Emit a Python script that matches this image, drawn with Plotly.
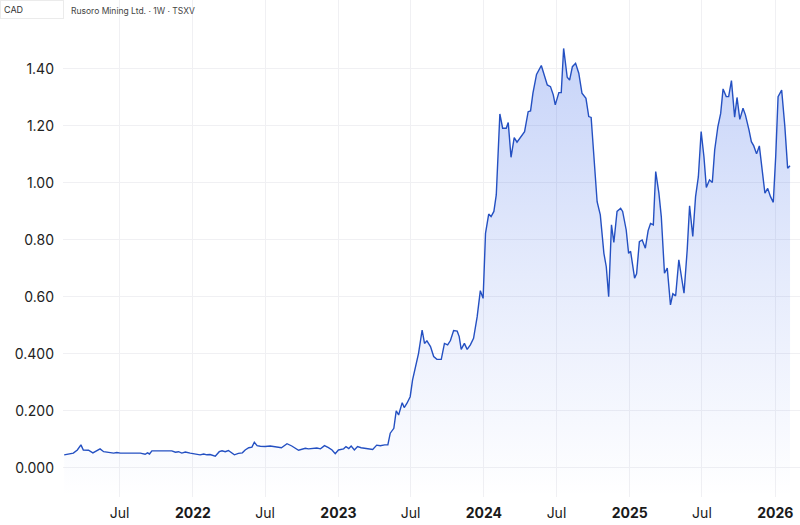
import plotly.graph_objects as go

# ---- data (weekly closes) ----
dates = [
    "2021-02-12","2021-03-07","2021-03-17","2021-03-26","2021-04-01","2021-04-14","2021-04-25","2021-05-05",
    "2021-05-13","2021-05-22","2021-06-03","2021-06-16","2021-06-24","2021-07-03","2021-08-22","2021-09-03",
    "2021-09-09","2021-09-14","2021-09-20","2021-10-11","2021-10-18","2021-11-09","2021-11-18","2021-11-26",
    "2021-12-04","2021-12-13","2021-12-25",
    "2022-01-07","2022-01-19","2022-01-28","2022-02-05","2022-02-13","2022-02-26","2022-03-08","2022-03-15",
    "2022-03-23","2022-03-31","2022-04-15","2022-04-25","2022-05-05","2022-05-12","2022-05-21","2022-05-29",
    "2022-06-04","2022-06-11","2022-06-19","2022-07-01","2022-07-14","2022-07-27","2022-08-11","2022-08-25",
    "2022-09-06","2022-09-23","2022-10-03","2022-10-10","2022-10-18","2022-10-27","2022-11-08","2022-11-17",
    "2022-11-27","2022-12-07","2022-12-16","2022-12-24",
    "2023-01-01","2023-01-14","2023-01-20","2023-01-27","2023-02-02","2023-02-10","2023-02-18","2023-02-27",
    "2023-03-09","2023-03-16","2023-03-28","2023-04-07","2023-04-16","2023-04-27","2023-05-05","2023-05-11",
    "2023-05-20","2023-05-26","2023-06-01","2023-06-10","2023-06-15","2023-06-22","2023-06-30","2023-07-06",
    "2023-07-13","2023-07-21","2023-07-30","2023-08-05","2023-08-11","2023-08-20","2023-08-28","2023-09-05",
    "2023-09-16","2023-09-24","2023-10-02","2023-10-09","2023-10-17","2023-10-26","2023-10-31","2023-11-05",
    "2023-11-13","2023-11-20","2023-11-28","2023-12-06","2023-12-15","2023-12-19","2023-12-23","2023-12-30",
    "2024-01-05","2024-01-13","2024-01-19","2024-01-26","2024-02-01","2024-02-10","2024-02-17","2024-02-26",
    "2024-03-02","2024-03-09","2024-03-17","2024-03-24","2024-04-03","2024-04-12","2024-04-21","2024-04-27",
    "2024-05-03","2024-05-12","2024-05-24","2024-06-01","2024-06-08","2024-06-16","2024-06-23","2024-06-28",
    "2024-07-07","2024-07-13","2024-07-19","2024-07-28","2024-08-03","2024-08-10","2024-08-18","2024-08-26",
    "2024-09-03","2024-09-13","2024-09-20","2024-09-26","2024-10-05","2024-10-11","2024-10-19","2024-10-28",
    "2024-11-03","2024-11-09","2024-11-16","2024-11-22","2024-11-30","2024-12-09","2024-12-14","2024-12-23",
    "2024-12-29",
    "2025-01-03","2025-01-13","2025-01-18","2025-01-25","2025-02-01","2025-02-09","2025-02-16","2025-02-22",
    "2025-03-01","2025-03-07","2025-03-15","2025-03-21","2025-03-29","2025-04-05","2025-04-13","2025-04-19",
    "2025-04-26","2025-05-04","2025-05-11","2025-05-17","2025-05-25","2025-05-31","2025-06-08","2025-06-15",
    "2025-06-22","2025-06-29","2025-07-06","2025-07-12","2025-07-20","2025-07-27","2025-08-02","2025-08-10",
    "2025-08-17","2025-08-23","2025-08-31","2025-09-06","2025-09-13","2025-09-21","2025-09-27","2025-10-04",
    "2025-10-12","2025-10-18","2025-10-27","2025-11-02","2025-11-08","2025-11-15","2025-11-22","2025-11-29",
    "2025-12-06","2025-12-13","2025-12-20","2025-12-27",
    "2026-01-02","2026-01-08","2026-01-17","2026-01-25","2026-02-01","2026-02-07",
]
prices = [
    0.046,0.052,0.063,0.081,0.063,0.062,0.053,0.060,
    0.067,0.057,0.054,0.052,0.054,0.052,0.052,0.048,
    0.053,0.049,0.060,0.060,0.062,0.060,0.055,0.057,
    0.052,0.056,0.052,
    0.048,0.046,0.049,0.046,0.047,0.041,0.057,0.060,
    0.057,0.061,0.046,0.051,0.053,0.063,0.071,0.073,
    0.090,0.078,0.076,0.075,0.077,0.074,0.071,0.085,
    0.077,0.062,0.067,0.069,0.067,0.069,0.070,0.067,
    0.078,0.071,0.063,0.050,
    0.063,0.067,0.075,0.068,0.077,0.063,0.075,0.071,
    0.068,0.067,0.065,0.080,0.078,0.081,0.081,0.122,
    0.139,0.200,0.186,0.229,0.212,0.227,0.250,0.309,
    0.353,0.402,0.484,0.437,0.446,0.426,0.391,0.381,
    0.381,0.437,0.432,0.447,0.482,0.480,0.461,0.416,
    0.437,0.416,0.432,0.455,0.530,0.585,0.622,0.595,
    0.823,0.891,0.882,0.900,0.958,1.242,1.192,1.192,
    1.212,1.090,1.159,1.143,1.163,1.180,1.250,1.253,
    1.315,1.381,1.412,1.375,1.344,1.338,1.309,1.274,
    1.317,1.317,1.472,1.371,1.361,1.408,1.420,1.385,
    1.315,1.297,1.233,1.230,1.057,0.934,0.888,0.753,
    0.706,0.601,0.853,0.791,0.900,0.911,0.900,0.835,
    0.753,
    0.760,0.666,0.681,0.794,0.800,0.771,0.833,0.858,
    0.853,1.040,0.964,0.882,0.683,0.701,0.572,0.611,
    0.604,0.730,0.660,0.613,0.765,0.920,0.812,0.952,
    1.022,1.180,1.092,0.984,1.011,1.002,1.116,1.198,
    1.244,1.330,1.303,1.303,1.359,1.231,1.300,1.223,
    1.262,1.239,1.186,1.145,1.130,1.102,1.130,1.046,
    0.964,0.981,0.952,0.932,
    1.092,1.303,1.326,1.198,1.052,1.060,
]

y_tick_vals = [0.0, 0.2, 0.4, 0.6, 0.8, 1.0, 1.2, 1.4]
y_tick_text = ["0.000", "0.200", "0.400", "0.60", "0.80", "1.00", "1.20", "1.40"]
x_tick_vals = ["2021-07-01", "2022-01-01", "2022-07-01", "2023-01-01", "2023-07-01",
               "2024-01-01", "2024-07-01", "2025-01-01", "2025-07-01", "2026-01-01"]
x_tick_text = ["Jul", "<b>2022</b>", "Jul", "<b>2023</b>", "Jul",
               "<b>2024</b>", "Jul", "<b>2025</b>", "Jul", "<b>2026</b>"]

Y_MIN, Y_MAX = -0.102, 1.642
X_RANGE = ["2021-02-09", "2026-03-04"]

LINE = "#2450c2"
FONT = "Inter"

fig = go.Figure()
# baseline at the bottom of the plot so the area fill reaches the axis floor
fig.add_trace(go.Scatter(x=[dates[0], dates[-1]], y=[Y_MIN, Y_MIN], mode="lines",
                         line=dict(width=0, color="rgba(0,0,0,0)"), hoverinfo="skip",
                         showlegend=False))
fig.add_trace(go.Scatter(
    x=dates, y=prices, mode="lines",
    line=dict(color=LINE, width=1.4),
    fill="tonexty",
    fillgradient=dict(type="vertical", start=Y_MIN, stop=1.45,
                      colorscale=[[0, "rgba(41,90,230,0.0)"],
                                  [0.5, "rgba(41,90,230,0.12)"],
                                  [1, "rgba(41,90,230,0.26)"]]),
    showlegend=False,
))

fig.update_layout(
    width=800, height=525,
    margin=dict(l=63, r=0, t=0, b=28),
    paper_bgcolor="white", plot_bgcolor="white",
    font=dict(family=FONT, size=14, color="#222"),
    showlegend=False,
    xaxis=dict(
        type="date", range=X_RANGE,
        tickmode="array", tickvals=x_tick_vals, ticktext=x_tick_text,
        showgrid=True, gridcolor="#f0f0f3", gridwidth=1,
        zeroline=False, showline=False, ticks="",
        ticklabelstandoff=6,
        tickfont=dict(family=FONT, size=14, color="#1a1a1a"),
    ),
    yaxis=dict(
        range=[Y_MIN, Y_MAX],
        tickmode="array", tickvals=y_tick_vals, ticktext=y_tick_text,
        showgrid=True, gridcolor="#f0f0f3", gridwidth=1,
        zeroline=False, showline=False, ticks="",
        ticklabelstandoff=8,
        tickfont=dict(family=FONT, size=14, color="#222"),
    ),
    annotations=[
        dict(xref="paper", yref="paper", x=-0.0855, y=1.0, xanchor="left", yanchor="top",
             text="CAD", showarrow=False, font=dict(family=FONT, size=9, color="#333"),
             bgcolor="white", bordercolor="#ebebeb", borderwidth=1, borderpad=3,
             width=56, align="left"),
        dict(xref="paper", yref="paper", x=0.008, y=0.992, xanchor="left", yanchor="top",
             text="Rusoro Mining Ltd. · 1W · TSXV", showarrow=False,
             font=dict(family=FONT, size=8.5, color="#444")),
    ],
)

fig.write_html("out.html")
